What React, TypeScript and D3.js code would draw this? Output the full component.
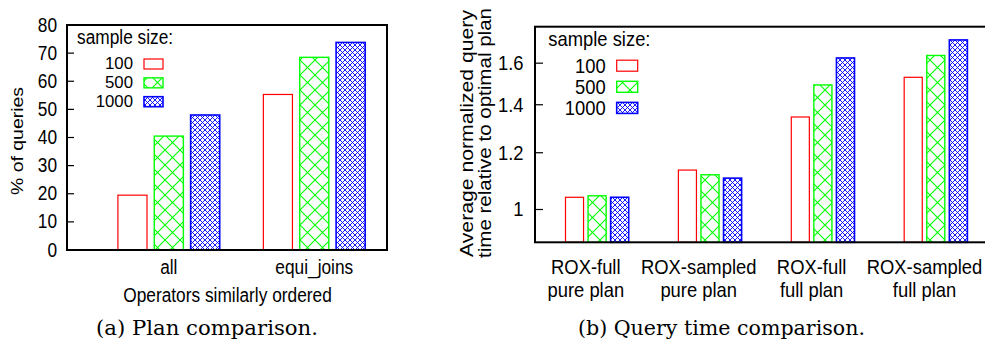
import React from "react";
import * as d3 from "d3";

// ---------- data ----------
const sampleSizes = ["100", "500", "1000"];

const categoriesA = ["all", "equi_joins"];
const seriesA100 = [19.5, 55.3];
const seriesA500 = [40.5, 68.5];
const seriesA1000 = [48, 73.8];
const ticksA = [0, 10, 20, 30, 40, 50, 60, 70, 80];

const categoriesB = [
  ["ROX-full", "pure plan"],
  ["ROX-sampled", "pure plan"],
  ["ROX-full", "full plan"],
  ["ROX-sampled", "full plan"],
];
const seriesB100 = [1.04, 1.135, 1.346, 1.529];
const seriesB500 = [1.045, 1.118, 1.492, 1.64];
const seriesB1000 = [1.04, 1.106, 1.627, 1.724];
const ticksB = [1, 1.2, 1.4, 1.6];

const colors = ["#ff0000", "#00ff00", "#0000ff"];
const fills = ["none", "url(#patG)", "url(#patB)"];
const strokeW = [1.2, 1.4, 1.6];

const SANS = "Liberation Sans, Arial, Helvetica, sans-serif";
const SERIF = "DejaVu Serif, Liberation Serif, serif";
const VS = 1.12; // vertical stretch of the reference's glyphs

function T(props: {
  x: number;
  y: number;
  fs: number;
  anchor?: string;
  vs?: number;
  children: React.ReactNode;
}) {
  const vs = props.vs === undefined ? VS : props.vs;
  return (
    <text
      transform={`translate(${props.x},${props.y}) scale(1,${vs})`}
      fontSize={props.fs}
      fontFamily={SANS}
      textAnchor={props.anchor || "start"}
      fill="#000"
    >
      {props.children}
    </text>
  );
}

export default function App() {
  const xA = d3.scaleLinear().domain([-0.7, 1.5]).range([67, 387]);
  const yA = d3.scaleLinear().domain([0, 80]).range([250, 25]);
  const seriesA = [seriesA100, seriesA500, seriesA1000];

  const xB = d3.scaleLinear().domain([-0.45, 3.57]).range([535, 535 + 4.02 * 112.9]);
  const yB = d3.scaleLog().domain([0.9, 1.8]).range([242.3, 26.5]);
  const seriesB = [seriesB100, seriesB500, seriesB1000];

  const fsA = 17.3;
  const fsB = 18.4;

  return (
    <svg
      width={985}
      height={341}
      style={{ position: "absolute", left: 0, top: 0, background: "#fff" }}
      xmlns="http://www.w3.org/2000/svg"
    >
      <defs>
        <pattern id="patG" patternUnits="userSpaceOnUse" width={15} height={15}>
          <path d="M-1,-1L16,16M16,-1L-1,16" stroke="#00ff00" strokeWidth={1.1} fill="none" />
        </pattern>
        <pattern id="patB" patternUnits="userSpaceOnUse" width={5} height={5}>
          <path d="M-1,-1L6,6M6,-1L-1,6" stroke="#0000ff" strokeWidth={0.9} fill="none" />
        </pattern>
        <clipPath id="clipAll">
          <rect x={0} y={0} width={985} height={341} />
        </clipPath>
      </defs>
      <rect x={0} y={0} width={985} height={341} fill="#fff" />

      {/* ================= Panel A ================= */}
      <g>
        {categoriesA.map((c, i) =>
          seriesA.map((s, j) => {
            const cx = i + (j - 1) * 0.25;
            const x0 = xA(cx - 0.1);
            const x1 = xA(cx + 0.1);
            return (
              <rect
                key={`a${i}${j}`}
                x={x0}
                y={yA(s[i])}
                width={x1 - x0}
                height={yA(0) - yA(s[i])}
                fill={fills[j]}
                stroke={colors[j]}
                strokeWidth={strokeW[j]}
              />
            );
          })
        )}
        {ticksA.map((t) => (
          <g key={`ta${t}`}>
            <line x1={67} x2={74} y1={yA(t)} y2={yA(t)} stroke="#000" strokeWidth={1.2} />
            <T x={57} y={yA(t) + 6.6} fs={fsA} anchor="end">
              {t}
            </T>
          </g>
        ))}
        <rect x={67} y={25} width={320} height={225} fill="none" stroke="#000" strokeWidth={2} />
        {categoriesA.map((c, i) => (
          <T key={`ca${i}`} x={xA(i)} y={274} fs={fsA} anchor="middle">
            {c}
          </T>
        ))}
        <T x={227.5} y={301.7} fs={fsA} anchor="middle">
          Operators similarly ordered
        </T>
        <text
          transform="translate(23,141) rotate(-90)"
          x={-54}
          y={0}
          fontSize={fsA}
          fontFamily={SANS}
          textLength={108}
          lengthAdjust="spacingAndGlyphs"
        >
          % of queries
        </text>
        <T x={77} y={44} fs={fsA}>
          sample size:
        </T>
        {sampleSizes.map((s, j) => {
          const top = 59 + j * 18.85;
          return (
            <g key={`la${j}`}>
              <T x={133} y={top + 10.2} fs={16.8} vs={1} anchor="end">
                {s}
              </T>
              <rect
                x={144}
                y={top}
                width={19}
                height={10}
                fill={fills[j]}
                stroke={colors[j]}
                strokeWidth={strokeW[j]}
              />
            </g>
          );
        })}
        <text
          x={96}
          y={335}
          fontFamily={SERIF}
          fontSize={20}
          textLength={222}
          lengthAdjust="spacingAndGlyphs"
        >
          (a) Plan comparison.
        </text>
      </g>

      {/* ================= Panel B ================= */}
      <g clipPath="url(#clipAll)">
        {categoriesB.map((c, i) =>
          seriesB.map((s, j) => {
            const cx = i + 0.1 + (j - 1) * 0.2;
            const x0 = xB(cx - 0.08);
            const x1 = xB(cx + 0.08);
            return (
              <rect
                key={`b${i}${j}`}
                x={x0}
                y={yB(s[i])}
                width={x1 - x0}
                height={yB(0.9) - yB(s[i])}
                fill={fills[j]}
                stroke={colors[j]}
                strokeWidth={strokeW[j]}
              />
            );
          })
        )}
        {ticksB.map((t) => (
          <g key={`tb${t}`}>
            <line x1={535} x2={543} y1={yB(t)} y2={yB(t)} stroke="#000" strokeWidth={1.2} />
            <T x={523.5} y={yB(t) + 7} fs={fsB} anchor="end">
              {d3.format("")(t)}
            </T>
          </g>
        ))}
        <rect
          x={535}
          y={26.7}
          width={xB(3.57) - 535}
          height={242.3 - 26.7}
          fill="none"
          stroke="#000"
          strokeWidth={2}
        />
        {categoriesB.map((c, i) => (
          <g key={`cb${i}`}>
            <T x={xB(i)} y={274.3} fs={fsB} anchor="middle">
              {c[0]}
            </T>
            <T x={xB(i)} y={296.9} fs={fsB} anchor="middle">
              {c[1]}
            </T>
          </g>
        ))}
        <text
          transform="translate(473,133.5) rotate(-90)"
          x={-123.5}
          y={0}
          fontSize={fsB}
          fontFamily={SANS}
          textLength={247}
          lengthAdjust="spacingAndGlyphs"
        >
          Average normalized query
        </text>
        <text
          transform="translate(490.5,133) rotate(-90)"
          x={-125}
          y={0}
          fontSize={fsB}
          fontFamily={SANS}
          textLength={250}
          lengthAdjust="spacingAndGlyphs"
        >
          time relative to optimal plan
        </text>
        <T x={548.3} y={45.7} fs={fsB}>
          sample size:
        </T>
        {sampleSizes.map((s, j) => {
          const top = 60.2 + j * 21.1;
          return (
            <g key={`lb${j}`}>
              <T x={605.7} y={top + 12.8} fs={fsB} anchor="end">
                {s}
              </T>
              <rect
                x={616.7}
                y={top}
                width={21}
                height={11}
                fill={fills[j]}
                stroke={colors[j]}
                strokeWidth={strokeW[j]}
              />
            </g>
          );
        })}
        <text
          x={578}
          y={335}
          fontFamily={SERIF}
          fontSize={20}
          textLength={287}
          lengthAdjust="spacingAndGlyphs"
        >
          (b) Query time comparison.
        </text>
      </g>
    </svg>
  );
}
